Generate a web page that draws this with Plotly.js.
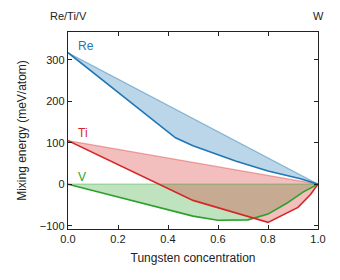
<!DOCTYPE html>
<html>
<head>
<meta charset="utf-8">
<script src="https://cdn.plot.ly/plotly-3.0.1.min.js"></script>
<style>html,body{margin:0;padding:0;background:#fff}#chart{width:340px;height:280px}</style>
</head>
<body>
<div id="chart"></div>
<script>
// Data
const reX = [0, 0.43, 0.5, 0.67, 0.8, 0.93, 1.0];
const reY = [317, 112, 93, 56, 32, 13, 0];
const reHullX = [0, 1];
const reHullY = [317, 0];

const tiX = [0, 0.5, 0.8, 0.92, 0.97, 1.0];
const tiY = [105, -39, -92, -56, -25, 0];
const tiHullX = [0, 1];
const tiHullY = [105, 0];

const vX = [0, 0.5, 0.6, 0.72, 0.8, 0.875, 0.94, 1.0];
const vY = [0, -77, -87, -86, -72, -46, -19, 0];
const vHullX = [0, 1];
const vHullY = [0, 0];

const xTicks = [0, 0.2, 0.4, 0.6, 0.8, 1.0];
const xTickText = ['0.0', '0.2', '0.4', '0.6', '0.8', '1.0'];
const yTicks = [-100, 0, 100, 200, 300];
const yTickText = ['\u2212100', '0', '100', '200', '300'];
const topLabels = ['Re/Ti/V', 'W'];
const topLabelX = [0, 1];

const colors = {
  Re: {line: '#1f77b4', hull: 'rgba(31,119,180,0.45)', fill: 'rgba(31,119,180,0.3)'},
  Ti: {line: '#d62728', hull: 'rgba(214,39,40,0.4)', fill: 'rgba(214,39,40,0.3)'},
  V:  {line: '#2ca02c', hull: 'rgba(44,160,44,0.4)', fill: 'rgba(44,160,44,0.3)'}
};

const series = [
  {name: 'V', x: vX, y: vY, hx: vHullX, hy: vHullY},
  {name: 'Ti', x: tiX, y: tiY, hx: tiHullX, hy: tiHullY},
  {name: 'Re', x: reX, y: reY, hx: reHullX, hy: reHullY}
];

const traces = [];
series.forEach(s => {
  const c = colors[s.name];
  traces.push({x: s.hx, y: s.hy, mode: 'lines', line: {width: 0}, hoverinfo: 'skip', showlegend: false});
  traces.push({x: s.x, y: s.y, mode: 'lines', line: {width: 0}, fill: 'tonexty', fillcolor: c.fill, hoverinfo: 'skip', showlegend: false});
});
series.forEach(s => {
  const c = colors[s.name];
  traces.push({x: s.hx, y: s.hy, mode: 'lines', line: {color: c.hull, width: 1.2}, showlegend: false});
});
series.forEach(s => {
  const c = colors[s.name];
  traces.push({x: s.x, y: s.y, mode: 'lines', line: {color: c.line, width: 1.6}, showlegend: false});
});

const labelPos = {Re: [0.03, 334], Ti: [0.03, 124], V: [0.03, 18]};
const annotations = series.map(s => ({
  x: labelPos[s.name][0], y: labelPos[s.name][1], xref: 'x', yref: 'y',
  text: s.name, showarrow: false, xanchor: 'left', yanchor: 'middle',
  font: {size: 12, color: colors[s.name].line}
}));
topLabels.forEach((t, i) => annotations.push({
  x: topLabelX[i], y: 1, xref: 'x', yref: 'paper', yshift: 8,
  text: t, showarrow: false, xanchor: 'center', yanchor: 'bottom',
  font: {size: 11, color: '#222'}
}));

const layout = {
  width: 340, height: 280,
  margin: {l: 68, r: 22, t: 32, b: 51},
  paper_bgcolor: '#fff', plot_bgcolor: '#fff',
  font: {family: 'Liberation Sans, Arial, sans-serif', size: 11, color: '#222'},
  showlegend: false,
  xaxis: {
    range: [0, 1], tickvals: xTicks, ticktext: xTickText,
    ticks: 'inside', ticklen: 4, tickcolor: '#222', mirror: 'ticks',
    showline: true, linecolor: '#222', linewidth: 1.2, showgrid: false, zeroline: false,
    title: {text: 'Tungsten concentration', font: {size: 12}, standoff: 9},
    tickfont: {size: 11}
  },
  yaxis: {
    range: [-108, 367], tickvals: yTicks, ticktext: yTickText,
    ticks: 'inside', ticklen: 4, tickcolor: '#222', mirror: 'ticks',
    showline: true, linecolor: '#222', linewidth: 1.2, showgrid: false, zeroline: false,
    title: {text: 'Mixing energy (meV/atom)', font: {size: 12}, standoff: 10},
    tickfont: {size: 11}
  },
  annotations: annotations
};

Plotly.newPlot('chart', traces, layout, {displayModeBar: false, staticPlot: true});
</script>
</body>
</html>
